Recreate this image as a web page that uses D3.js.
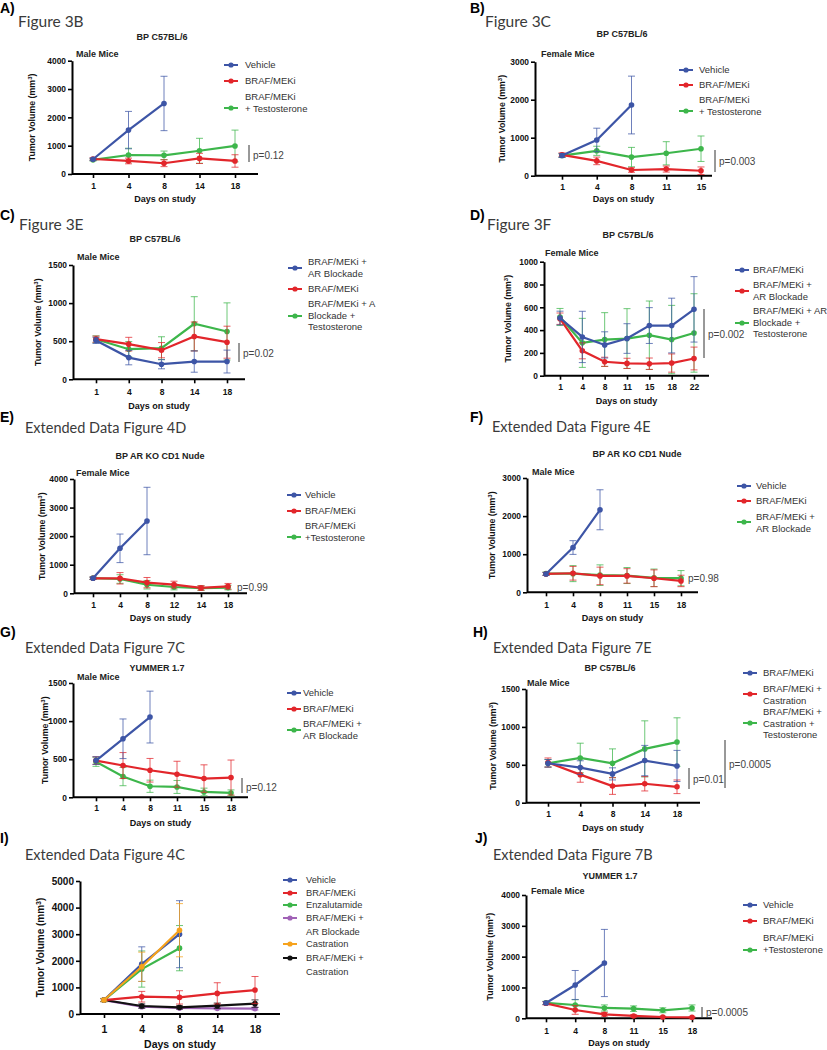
<!DOCTYPE html>
<html><head><meta charset="utf-8">
<script src="https://cdn.jsdelivr.net/npm/d3@7"></script>
<style>body{margin:0;background:#fff}svg{display:block}</style>
</head><body>
<svg id="c" width="827" height="1050"></svg>
<script>
// ---------------- DATA ----------------
// A) Figure 3B
const daysA = [1, 4, 8, 14, 18];
const A_vehicle = [520, 1550, 2490];       const A_vehicleErr = [40, 660, 960];
const A_braf = [530, 460, 380, 550, 460];  const A_brafErr = [40, 100, 120, 180, 220];
const A_brafT = [500, 670, 660, 820, 990]; const A_brafTErr = [40, 240, 150, 440, 560];
// B) Figure 3C
const daysB = [1, 4, 8, 11, 15];
const B_vehicle = [530, 940, 1860];        const B_vehicleErr = [50, 310, 760];
const B_braf = [550, 390, 150, 175, 130];  const B_brafErr = [50, 100, 60, 80, 100];
const B_brafT = [530, 655, 490, 590, 710]; const B_brafTErr = [50, 120, 255, 305, 335];
// C) Figure 3E
const daysC = [1, 4, 8, 14, 18];
const C_brafAR = [510, 285, 198, 233, 233];  const C_brafARErr = [40, 95, 60, 140, 150];
const C_braf = [527, 461, 382, 562, 487];    const C_brafErr = [40, 90, 100, 190, 210];
const C_brafART = [525, 395, 408, 729, 628]; const C_brafARTErr = [45, 100, 150, 355, 375];
// D) Figure 3F
const daysD = [1, 4, 8, 11, 15, 18, 22];
const D_braf = [506, 340, 270, 326, 440, 440, 582];     const D_brafErr = [60, 225, 115, 130, 157, 240, 287];
const D_brafAR = [500, 218, 122, 108, 105, 111, 151];   const D_brafARErr = [50, 70, 40, 45, 50, 80, 100];
const D_brafART = [515, 288, 317, 326, 355, 317, 375];  const D_brafARTErr = [75, 215, 236, 262, 300, 300, 344];
// E) Extended Data Figure 4D
const daysE = [1, 4, 8, 12, 14, 18];
const E_vehicle = [525, 1574, 2530];                 const E_vehicleErr = [40, 500, 1180];
const E_braf = [525, 525, 373, 303, 187, 245];       const E_brafErr = [40, 200, 180, 120, 80, 100];
const E_brafT = [530, 500, 300, 220, 180, 200];      const E_brafTErr = [40, 150, 150, 100, 80, 80];
// F) Extended Data Figure 4E
const daysF = [1, 4, 8, 11, 15, 18];
const F_vehicle = [482, 1175, 2166];                 const F_vehicleErr = [40, 180, 525];
const F_braf = [482, 500, 430, 430, 368, 298];       const F_brafErr = [40, 180, 230, 190, 220, 150];
const F_brafAR = [490, 490, 450, 440, 380, 370];     const F_brafARErr = [40, 210, 270, 210, 230, 200];
// G) Extended Data Figure 7C
const daysG = [1, 4, 8, 11, 15, 18];
const G_vehicle = [482, 768, 1053];                  const G_vehicleErr = [50, 260, 340];
const G_braf = [482, 417, 355, 303, 246, 259];       const G_brafErr = [50, 170, 155, 170, 180, 230];
const G_brafAR = [466, 272, 145, 136, 70, 57];       const G_brafARErr = [60, 120, 80, 85, 50, 40];
// H) Extended Data Figure 7E
const daysH = [1, 4, 8, 14, 18];
const H_braf = [520, 463, 380, 556, 485];            const H_brafErr = [50, 90, 80, 200, 205];
const H_brafC = [530, 370, 220, 250, 210];           const H_brafCErr = [60, 100, 110, 95, 90];
const H_brafCT = [520, 590, 520, 710, 800];          const H_brafCTErr = [50, 195, 190, 370, 320];
// I) Extended Data Figure 4C
const daysI = [1, 4, 8, 14, 18];
const I_vehicle = [525, 1875, 3000];                 const I_vehicleErr = [60, 650, 1260];
const I_braf = [525, 650, 625, 775, 900];            const I_brafErr = [60, 200, 250, 400, 510];
const I_enza = [525, 1690, 2475];                    const I_enzaErr = [60, 680, 850];
const I_brafAR = [520, 275, 225, 212, 200];          const I_brafARErr = [50, 60, 50, 50, 50];
const I_castr = [525, 1775, 3150];                   const I_castrErr = [60, 550, 1000];
const I_brafCastr = [525, 300, 250, 312, 390];       const I_brafCastrErr = [50, 80, 60, 100, 140];
// J) Extended Data Figure 7B
const daysJ = [1, 4, 8, 11, 15, 18];
const J_vehicle = [497, 1081, 1794];                 const J_vehicleErr = [50, 470, 1090];
const J_braf = [486, 270, 130, 76, 43, 32];          const J_brafErr = [50, 140, 60, 40, 20, 15];
const J_brafT = [500, 432, 335, 313, 260, 335];      const J_brafTErr = [50, 170, 100, 90, 80, 100];

// ---------------- STYLE / LAYOUT ----------------
const COL = {blue:'#3d55a6', red:'#e2262b', green:'#3db64b', purple:'#a062b6', orange:'#f6a21c', black:'#111111'};
const S = (name, color, vals, errs) => ({name, color, vals, errs});

const panels = [
 {label:'A)', lx:0, ly:8, fig:'Figure 3B', fx:18, fy:21, title:'BP C57BL/6', tx:162, ty:37, sub:'Male Mice', sx:76, sy:54,
  axX:72, axEnd:258, yTop:60.7, y0:174, ymax:4000, step:1000, xFirst:93, xLast:235, tlY:186, xtY:199, ytX:32, days:daysA,
  series:[S('Vehicle',COL.blue,A_vehicle,A_vehicleErr), S('BRAF/MEKi',COL.red,A_braf,A_brafErr), S('BRAF/MEKi\n+ Testosterone',COL.green,A_brafT,A_brafTErr)],
  leg:{mx:224, tx:245, items:[{ty:65,my:65},{ty:81,my:81},{ty:97,my:108}]},
  pv:[{x:249,y1:145,y2:162,text:'p=0.12',ty:155}]},
 {label:'B)', lx:470, ly:8, fig:'Figure 3C', fx:485, fy:21, title:'BP C57BL/6', tx:622, ty:34, sub:'Female Mice', sx:541, sy:54,
  axX:535, axEnd:712, yTop:61.7, y0:175.7, ymax:3000, step:1000, xFirst:562, xLast:701, tlY:187, xtY:199, ytX:502, days:daysB,
  series:[S('Vehicle',COL.blue,B_vehicle,B_vehicleErr), S('BRAF/MEKi',COL.red,B_braf,B_brafErr), S('BRAF/MEKi\n+ Testosterone',COL.green,B_brafT,B_brafTErr)],
  leg:{mx:679, tx:699, items:[{ty:70,my:70},{ty:85,my:85},{ty:100,my:111}]},
  pv:[{x:715,y1:150,y2:172,text:'p=0.003',ty:161}]},
 {label:'C)', lx:0, ly:215, fig:'Figure 3E', fx:19, fy:224, title:'BP C57BL/6', tx:155, ty:239, sub:'Male Mice', sx:77, sy:257,
  axX:73, axEnd:245, yTop:265, y0:379.3, ymax:1500, step:500, xFirst:96, xLast:227, tlY:392, xtY:406, ytX:38, days:daysC,
  series:[S('BRAF/MEKi +\nAR Blockade',COL.blue,C_brafAR,C_brafARErr), S('BRAF/MEKi',COL.red,C_braf,C_brafErr), S('BRAF/MEKi + A\nBlockade +\nTestosterone',COL.green,C_brafART,C_brafARTErr)],
  leg:{mx:288, tx:308, items:[{ty:262,my:268},{ty:289,my:289},{ty:304,my:316}]},
  pv:[{x:239,y1:343,y2:362,text:'p=0.02',ty:353}]},
 {label:'D)', lx:470, ly:215, fig:'Figure 3F', fx:487, fy:224, title:'BP C57BL/6', tx:628, ty:235, sub:'Female Mice', sx:545, sy:253,
  axX:544, axEnd:709, yTop:261.7, y0:375.7, ymax:1000, step:200, xFirst:560, xLast:694, tlY:387, xtY:401, ytX:508, days:daysD, ytText:'Tumor  Volume (mm',
  series:[S('BRAF/MEKi',COL.blue,D_braf,D_brafErr), S('BRAF/MEKi +\nAR Blockade',COL.red,D_brafAR,D_brafARErr), S('BRAF/MEKi + AR\nBlockade +\nTestosterone',COL.green,D_brafART,D_brafARTErr)],
  leg:{mx:735, tx:753, items:[{ty:270,my:270},{ty:285,my:291},{ty:311,my:323}]},
  pv:[{x:704,y1:309,y2:358,text:'p=0.002',ty:334}]},
 {label:'E)', lx:0, ly:417, fig:'Extended Data Figure 4D', fx:25, fy:428, title:'BP AR KO CD1 Nude', tx:160, ty:456, sub:'Female Mice', sx:76, sy:473,
  axX:74, axEnd:247, yTop:479, y0:593.3, ymax:4000, step:1000, xFirst:93, xLast:228, tlY:605, xtY:618, ytX:42, days:daysE,
  series:[S('Vehicle',COL.blue,E_vehicle,E_vehicleErr), S('BRAF/MEKi',COL.red,E_braf,E_brafErr), S('BRAF/MEKi\n+Testosterone',COL.green,E_brafT,E_brafTErr)],
  leg:{mx:287, tx:305, items:[{ty:495,my:495},{ty:511,my:511},{ty:526,my:537}]},
  pv:[{text:'p=0.99',tx:237,ty:587}]},
 {label:'F)', lx:470, ly:417, fig:'Extended Data Figure 4E', fx:492, fy:427, title:'BP AR KO CD1 Nude', tx:637, ty:454, sub:'Male Mice', sx:532, sy:472,
  axX:527, axEnd:698, yTop:478, y0:592.3, ymax:3000, step:1000, xFirst:546, xLast:681, tlY:605, xtY:618, ytX:492, days:daysF,
  series:[S('Vehicle',COL.blue,F_vehicle,F_vehicleErr), S('BRAF/MEKi',COL.red,F_braf,F_brafErr), S('BRAF/MEKi +\nAR Blockade',COL.green,F_brafAR,F_brafARErr)],
  leg:{mx:737, tx:756, items:[{ty:486,my:486},{ty:501,my:501},{ty:517,my:522}]},
  pv:[{text:'p=0.98',tx:688,ty:578}]},
 {label:'G)', lx:0, ly:632, fig:'Extended Data Figure 7C', fx:25, fy:648, title:'YUMMER 1.7', tx:157, ty:668, sub:'Male Mice', sx:77, sy:677,
  axX:73, axEnd:248, yTop:683, y0:797.3, ymax:1500, step:500, xFirst:96, xLast:231, tlY:808, xtY:823, ytX:45, days:daysG,
  series:[S('Vehicle',COL.blue,G_vehicle,G_vehicleErr), S('BRAF/MEKi',COL.red,G_braf,G_brafErr), S('BRAF/MEKi +\nAR Blockade',COL.green,G_brafAR,G_brafARErr)],
  leg:{mx:287, tx:303, items:[{ty:693,my:693},{ty:709,my:709},{ty:724,my:730}]},
  pv:[{x:242,y1:778,y2:793,text:'p=0.12',ty:787}]},
 {label:'H)', lx:473, ly:632, fig:'Extended Data Figure 7E', fx:493, fy:648, title:'BP C57BL/6', tx:610, ty:668, sub:'Male Mice', sx:527, sy:683,
  axX:526, axEnd:700, yTop:689, y0:802.7, ymax:1500, step:500, xFirst:548, xLast:677, tlY:814, xtY:828, ytX:493, days:daysH,
  series:[S('BRAF/MEKi',COL.blue,H_braf,H_brafErr), S('BRAF/MEKi +\nCastration',COL.red,H_brafC,H_brafCErr), S('BRAF/MEKi +\nCastration +\nTestosterone',COL.green,H_brafCT,H_brafCTErr)],
  leg:{mx:743, tx:763, items:[{ty:673,my:673},{ty:689,my:694},{ty:712,my:723}]},
  pv:[{x:689,y1:768,y2:789,text:'p=0.01',ty:779},{x:725,y1:740,y2:788,text:'p=0.0005',ty:764}]},
 {label:'I)', lx:0, ly:838, fig:'Extended Data Figure 4C', fx:25, fy:855, big:true,
  axX:80, axEnd:280, yTop:881, y0:1014, ymax:5000, step:1000, xFirst:104, xLast:255, tlY:1029, xtY:1044, ytX:40, days:daysI,
  series:[S('Vehicle',COL.blue,I_vehicle,I_vehicleErr), S('BRAF/MEKi',COL.red,I_braf,I_brafErr), S('Enzalutamide',COL.green,I_enza,I_enzaErr),
          S('BRAF/MEKi +\nAR Blockade',COL.purple,I_brafAR,I_brafARErr), S('Castration',COL.orange,I_castr,I_castrErr), S('BRAF/MEKi +\nCastration',COL.black,I_brafCastr,I_brafCastrErr)],
  drawOrder:[3,5,1,2,0,4], lineGap:13.5,
  leg:{mx:283, tx:306, items:[{ty:880,my:880},{ty:893,my:893},{ty:905,my:905},{ty:918,my:918},{ty:944,my:944},{ty:958,my:958}]},
  pv:[]},
 {label:'J)', lx:475, ly:838, fig:'Extended Data Figure 7B', fx:493, fy:855, title:'YUMMER 1.7', tx:610, ty:876, sub:'Female Mice', sx:531, sy:891,
  axX:526, axEnd:712, yTop:895, y0:1018.3, ymax:4000, step:1000, xFirst:546, xLast:692, tlY:1031, xtY:1043, ytX:490, days:daysJ,
  series:[S('Vehicle',COL.blue,J_vehicle,J_vehicleErr), S('BRAF/MEKi',COL.red,J_braf,J_brafErr), S('BRAF/MEKi\n+Testosterone',COL.green,J_brafT,J_brafTErr)],
  leg:{mx:743, tx:763, items:[{ty:905,my:905},{ty:921,my:921},{ty:938,my:950}]},
  pv:[{x:702,y1:1007,y2:1017,text:'p=0.0005',ty:1012}]}
];

// ---------------- DRAW ----------------
const svg = d3.select('#c');
const ARIAL = 'Liberation Sans, Arial, sans-serif';
const FIGF = 'Lato, "Open Sans", sans-serif';

function drawPanel(p) {
  const g = svg.append('g');
  const big = !!p.big;
  // headings
  g.append('text').attr('x', p.lx).attr('y', p.ly).attr('dy', '0.36em')
    .attr('font-family', ARIAL).attr('font-weight', 'bold').attr('font-size', 14).text(p.label);
  g.append('text').attr('x', p.fx).attr('y', p.fy).attr('dy', '0.36em')
    .attr('font-family', FIGF).attr('font-size', p.fig.length > 12 ? 14.5 : 15.5).attr('fill', '#3a3a3a').text(p.fig);
  if (p.title) g.append('text').attr('x', p.tx).attr('y', p.ty).attr('dy', '0.36em').attr('text-anchor', 'middle')
    .attr('font-family', ARIAL).attr('font-weight', 'bold').attr('font-size', 9).attr('fill', '#222').text(p.title);
  if (p.sub) g.append('text').attr('x', p.sx).attr('y', p.sy).attr('dy', '0.36em')
    .attr('font-family', ARIAL).attr('font-weight', 'bold').attr('font-size', 9).attr('fill', '#222').text(p.sub);

  const x = d3.scalePoint().domain(p.days.map(String)).range([p.xFirst, p.xLast]);
  const y = d3.scaleLinear().domain([0, p.ymax]).range([p.y0, p.yTop]);
  const tickFs = big ? 10 : 8.4;

  // y axis
  const ya = g.append('g').attr('transform', `translate(${p.axX},0)`)
    .call(d3.axisLeft(y).tickValues(d3.range(0, p.ymax + 1, p.step)).tickSize(4).tickSizeOuter(0).tickPadding(2).tickFormat(d3.format('d')));
  ya.select('.domain').attr('stroke-width', 2).attr('stroke', '#000');
  ya.selectAll('.tick line').attr('stroke-width', 1.6);
  ya.selectAll('.tick text').attr('font-family', ARIAL).attr('font-weight', 'bold').attr('font-size', tickFs).attr('fill', '#111');
  // x axis
  const xa = g.append('g').attr('transform', `translate(0,${p.y0})`)
    .call(d3.axisBottom(x).tickSize(4).tickSizeOuter(0).tickPadding(3));
  xa.select('.domain').attr('d', `M${p.axX},0H${p.axEnd}`).attr('stroke-width', 2).attr('stroke', '#000');
  xa.selectAll('.tick line').attr('stroke-width', 1.6);
  xa.selectAll('.tick text').attr('y', p.tlY - p.y0).attr('dy', '0.36em').attr('font-family', ARIAL).attr('font-weight', 'bold').attr('font-size', big ? 10.5 : 8.5).attr('fill', '#111');

  // axis titles
  g.append('text').attr('x', (p.axX + p.axEnd) / 2).attr('y', p.xtY).attr('dy', '0.36em').attr('text-anchor', 'middle')
    .attr('font-family', ARIAL).attr('font-weight', 'bold').attr('font-size', big ? 10.5 : 9).attr('fill', '#111').text('Days on study');
  const yt = g.append('text').attr('transform', `translate(${p.ytX},${(p.yTop + p.y0) / 2}) rotate(-90)`).attr('dy', '0.36em')
    .attr('text-anchor', 'middle').attr('font-family', ARIAL).attr('font-weight', 'bold').attr('font-size', big ? 10 : 8.8).attr('fill', '#111');
  yt.append('tspan').text(p.ytText || 'Tumor Volume (mm');
  yt.append('tspan').attr('dy', -3).attr('font-size', big ? 7 : 6).text('3');
  yt.append('tspan').attr('dy', 3).text(')');

  // series
  const order = p.drawOrder || p.series.map((d, i) => i).reverse();
  order.forEach(i => {
    const s = p.series[i];
    const pts = s.vals.map((v, k) => ({d: String(p.days[k]), v, e: s.errs[k]}));
    const sg = g.append('g');
    // error bars
    pts.forEach(pt => {
      const xx = x(pt.d), yHi = y(pt.v + pt.e), yLo = y(Math.max(0, pt.v - pt.e));
      sg.append('path').attr('d', `M${xx},${yLo}V${yHi}M${xx - 3.5},${yHi}H${xx + 3.5}M${xx - 3.5},${yLo}H${xx + 3.5}`)
        .attr('stroke', s.color).attr('stroke-width', 1).attr('fill', 'none').attr('opacity', 0.75);
    });
    sg.append('path').datum(pts).attr('d', d3.line().x(d => x(d.d)).y(d => y(d.v)))
      .attr('fill', 'none').attr('stroke', s.color).attr('stroke-width', 2.2);
    sg.selectAll('circle').data(pts).join('circle').attr('cx', d => x(d.d)).attr('cy', d => y(d.v)).attr('r', 2.8).attr('fill', s.color);
  });

  // legend
  const gap = p.lineGap || 11.3;
  p.series.forEach((s, i) => {
    const it = p.leg.items[i];
    g.append('line').attr('x1', p.leg.mx).attr('x2', p.leg.mx + 14).attr('y1', it.my).attr('y2', it.my).attr('stroke', s.color).attr('stroke-width', 2);
    g.append('circle').attr('cx', p.leg.mx + 7).attr('cy', it.my).attr('r', 2.6).attr('fill', s.color);
    s.name.split('\n').forEach((ln, k) => {
      g.append('text').attr('x', p.leg.tx).attr('y', it.ty + k * gap).attr('dy', '0.36em')
        .attr('font-family', ARIAL).attr('font-size', big ? 9.3 : 9.5).attr('fill', '#333').text(ln);
    });
  });

  // p-values
  p.pv.forEach(v => {
    if (v.x !== undefined) {
      g.append('line').attr('x1', v.x).attr('x2', v.x).attr('y1', v.y1).attr('y2', v.y2).attr('stroke', '#333').attr('stroke-width', 1);
    }
    g.append('text').attr('x', v.tx !== undefined ? v.tx : v.x + 4).attr('y', v.ty).attr('dy', '0.36em')
      .attr('font-family', ARIAL).attr('font-size', 10).attr('fill', '#444').text(v.text);
  });
}

panels.forEach(drawPanel);
</script>
</body></html>
